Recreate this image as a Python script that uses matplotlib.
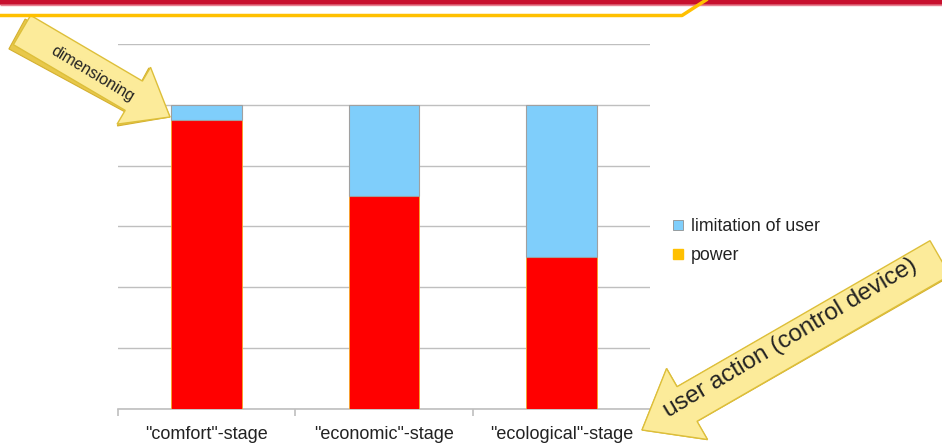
import matplotlib
matplotlib.use('Agg')
import matplotlib.pyplot as plt
import numpy as np
from matplotlib.patches import FancyArrow
from matplotlib.lines import Line2D

plt.rcParams['font.family'] = ['Liberation Sans', 'DejaVu Sans']

categories = ['"comfort"-stage', '"economic"-stage', '"ecological"-stage']
power = [95, 70, 50]
limitation = [5, 30, 50]
legend_labels = ['limitation of user', 'power']

RED = '#FF0000'
BLUE = '#7FCEFB'
GOLD = '#FFC000'
GRID = '#BFBFBF'

W, H = 942, 444
fig = plt.figure(figsize=(W / 100, H / 100), dpi=100)

# chart axes: left 118, right 650, top 44, bottom 409 (pixels)
ax = fig.add_axes([118 / W, 1 - 409 / H, (650 - 118) / W, (409 - 44) / H])
x = np.arange(len(categories))
ax.bar(x, power, 0.4, color=RED, edgecolor='#F5A623', linewidth=0.6, zorder=3)
ax.bar(x, limitation, 0.4, bottom=power, color=BLUE, edgecolor='#A0A0A0', linewidth=0.8, zorder=3)
ax.set_xlim(-0.5, 2.5)
ax.set_ylim(0, 120)
ax.set_yticks(np.arange(0, 121, 20))
ax.yaxis.grid(True, color=GRID, linewidth=1.0, zorder=0)
ax.tick_params(axis='y', length=0, labelleft=False)
for s in ['left', 'right', 'top']:
    ax.spines[s].set_visible(False)
ax.spines['bottom'].set_color(GRID)
ax.spines['bottom'].set_linewidth(1.2)
ax.set_xticks(x)
ax.set_xticklabels(categories, fontsize=13, color='#222222')
ax.set_xticks([-0.5, 0.5, 1.5, 2.5], minor=True)
ax.tick_params(axis='x', which='major', length=0, pad=12)
ax.tick_params(axis='x', which='minor', length=5, color=GRID, width=1.2)

handles = [Line2D([], [], marker='s', linestyle='', markersize=7.5, markerfacecolor=BLUE,
                  markeredgecolor='#909090', markeredgewidth=0.6),
           Line2D([], [], marker='s', linestyle='', markersize=7.5, markerfacecolor=GOLD,
                  markeredgecolor=GOLD)]
fig.legend(handles, legend_labels, loc='upper left', bbox_to_anchor=(655 / W, 1 - 202 / H),
           frameon=False, fontsize=12.8, handlelength=0.8, handletextpad=0.3,
           labelspacing=0.7, labelcolor='#222222')

# decoration overlay in pixel coordinates
ov = fig.add_axes([0, 0, 1, 1], zorder=10)
ov.set_xlim(0, W)
ov.set_ylim(H, 0)
ov.axis('off')
ov.patch.set_alpha(0)

ov.plot([0, W], [2, 2], color='#C8102E', linewidth=4, solid_capstyle='butt')
ov.plot([0, W], [5, 5], color='#E88090', linewidth=1, solid_capstyle='butt')
ov.plot([0, 682, 706], [15.5, 15.5, 0], color=GOLD, linewidth=2.5)


def arrow(x0, y0, x1, y1, width, head_w, head_l):
    dx, dy = x1 - x0, y1 - y0
    # darker side for the 3-d look
    ov.add_patch(FancyArrow(x0 - 5, y0 + 4, dx + 5, dy - 4, width=width, head_width=head_w,
                            head_length=head_l, length_includes_head=True,
                            facecolor='#E8C84A', edgecolor='#D4B030', linewidth=0.8))
    ov.add_patch(FancyArrow(x0, y0, dx, dy, width=width, head_width=head_w,
                            head_length=head_l, length_includes_head=True,
                            facecolor='#FCEB9A', edgecolor='#DDBF3A', linewidth=1.0))


arrow(22, 30, 170, 117, 34, 66, 42)
ov.text(93, 74, 'dimensioning', rotation=-31, fontsize=11.5, ha='center', va='center',
        color='#222222', rotation_mode='anchor')

arrow(940, 258, 642, 430, 40, 82, 52)
ov.text(790, 338, 'user action (control device)', rotation=30.8, fontsize=17.5,
        ha='center', va='center', color='#222222', rotation_mode='anchor')

fig.savefig('out.png', dpi=100)
